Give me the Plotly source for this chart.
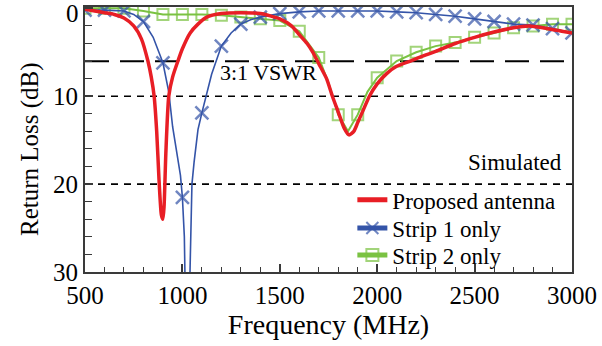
import plotly.graph_objects as go

# ---------------- data ----------------
# Proposed antenna (dense curve, MHz / dB)
prop_f = [500, 550, 600, 650, 700, 750, 790, 823, 840, 855, 868, 880, 892, 900, 906, 915,
          930, 950, 977, 1000, 1040, 1080, 1125, 1200, 1300, 1400, 1500, 1560, 1600, 1640,
          1670, 1700, 1740, 1770, 1800, 1830, 1855, 1880, 1900, 1930, 1960, 2000, 2050,
          2100, 2170, 2250, 2300, 2400, 2500, 2600, 2700, 2780, 2850, 2920, 3000]
prop_rl = [0.1, 0.3, 0.5, 0.7, 1.1, 2.0, 3.5, 6.0, 7.8, 10.0, 14.0, 19.5, 23.5, 24.0, 22.5, 16.5,
           10.0, 7.8, 6.0, 4.6, 2.8, 1.8, 1.0, 0.6, 0.5, 0.6, 1.2, 2.0, 3.0, 4.0,
           5.0, 6.3, 8.0, 10.0, 11.8, 13.6, 14.4, 14.0, 13.0, 11.5, 10.0, 8.6, 7.4,
           6.6, 6.0, 5.3, 4.9, 4.0, 3.3, 2.7, 2.2, 2.0, 2.2, 2.5, 2.8]

# Strip 1 only
s1_f = [500, 600, 700, 750, 800, 850, 900, 930, 950, 970, 990, 1000, 1010, 1020, 1030,
        1040, 1049, 1060, 1080, 1100, 1150, 1200, 1250, 1300, 1350, 1400, 1500, 1600,
        1700, 1800, 1900, 2000, 2100, 2200, 2300, 2400, 2500, 2600, 2700, 2800, 2900, 3000]
s1_rl = [0.2, 0.2, 0.3, 0.7, 1.5, 3.3, 6.2, 9.5, 13.5, 16.5, 19.0, 21.5, 26.0, 40.0, 40.0,
         29.0, 20.0, 17.5, 13.8, 11.9, 7.5, 4.3, 2.8, 1.8, 1.3, 1.0, 0.6, 0.4,
         0.3, 0.3, 0.3, 0.3, 0.4, 0.5, 0.7, 0.9, 1.2, 1.5, 1.8, 1.9, 2.3, 2.8]

# Strip 2 only
s2_f = [500, 600, 700, 800, 900, 1000, 1100, 1200, 1300, 1400, 1500, 1600, 1700, 1750,
        1800, 1850, 1900, 1950, 2000, 2100, 2200, 2300, 2400, 2500, 2600, 2700, 2800,
        2900, 3000]
s2_rl = [0.0, 0.0, 0.0, 0.3, 0.7, 0.7, 0.7, 0.8, 1.0, 1.2, 1.4, 2.6, 5.6, 8.5,
         12.1, 14.0, 12.1, 9.5, 7.9, 6.0, 5.0, 4.3, 3.9, 3.3, 2.8, 2.2, 2.0,
         1.8, 1.8]

GUIDE_LEVELS = [10, 20]      # short-dash guide lines (dB)
VSWR_LEVEL = 6.02            # 3:1 VSWR (dB)
MARKER_STEP = 100            # markers every 100 MHz

x_ticks = [500, 1000, 1500, 2000, 2500, 3000]
y_ticks = [0, 10, 20, 30]

FONT = "Liberation Serif"
RED = "rgb(232,30,37)"
BLUE = "rgb(52,84,168)"
GREEN = "rgb(122,194,66)"
AX = "#3a3a3a"


def mk_sizes(freqs, on):
    return [on if f % MARKER_STEP == 0 else 0 for f in freqs]


fig = go.Figure()

fig.add_trace(go.Scatter(
    x=s2_f, y=s2_rl, mode="lines+markers", name="Strip 2 only",
    line=dict(color=GREEN, width=2),
    marker=dict(symbol="square-open", size=mk_sizes(s2_f, 11), color=GREEN,
                line=dict(color=GREEN, width=mk_sizes(s2_f, 2))),
    legend="legend3",
))
fig.add_trace(go.Scatter(
    x=s1_f, y=s1_rl, mode="lines+markers", name="Strip 1 only",
    line=dict(color=BLUE, width=1.6),
    marker=dict(symbol="x-thin", size=mk_sizes(s1_f, 13), color=BLUE,
                line=dict(color=BLUE, width=mk_sizes(s1_f, 2.5))),
    legend="legend2",
))
fig.add_trace(go.Scatter(
    x=prop_f, y=prop_rl, mode="lines", name="Proposed antenna",
    line=dict(color=RED, width=3.5, shape="spline", smoothing=0.6),
    legend="legend",
))

shapes = []
for lv in GUIDE_LEVELS:
    shapes.append(dict(type="line", xref="paper", x0=0, x1=1, yref="y", y0=lv, y1=lv,
                       line=dict(color="black", width=1.6, dash="7px,6px"), layer="below"))
shapes.append(dict(type="line", xref="paper", x0=0, x1=1, yref="y", y0=VSWR_LEVEL, y1=VSWR_LEVEL,
                   line=dict(color="black", width=2.2, dash="24px,11px"), layer="below"))

TICK_FONT = dict(family=FONT, size=25, color="black")
axis_common = dict(
    showline=True, linecolor=AX, linewidth=2, mirror=True,
    ticks="inside", tickcolor=AX, tickwidth=1.5, ticklen=8,
    showgrid=False, zeroline=False, automargin=False,
    tickfont=TICK_FONT,
)

LEG_X = 0.549
leg_common = dict(x=LEG_X, xanchor="left", yanchor="middle",
                  bgcolor="rgba(0,0,0,0)", borderwidth=0,
                  font=dict(family=FONT, size=23, color="black"),
                  itemsizing="constant")

fig.update_layout(
    width=602, height=346,
    margin=dict(l=85, r=30, t=7, b=74, autoexpand=False),
    paper_bgcolor="white", plot_bgcolor="white",
    font=dict(family=FONT, color="black"),
    showlegend=True,
    legend=dict(y=0.272, **leg_common),
    legend2=dict(y=0.166, **leg_common),
    legend3=dict(y=0.064, **leg_common),
    shapes=shapes,
    annotations=[
        # top tick label, nudged down so it stays inside the picture (as in the reference)
        dict(text=str(y_ticks[0]), x=0, y=y_ticks[0], xref="paper", yref="y",
             xanchor="right", yanchor="middle", xshift=-4, yshift=-5, showarrow=False,
             font=TICK_FONT),
        dict(text="3:1 VSWR", x=1440, y=VSWR_LEVEL, xref="x", yref="y",
             yanchor="top", yshift=3, showarrow=False,
             font=dict(family=FONT, size=22, color="black")),
        dict(text="Simulated", x=0.984, y=0.413, xref="paper", yref="paper",
             xanchor="right", yanchor="middle", showarrow=False,
             font=dict(family=FONT, size=23, color="black")),
        dict(text="Return Loss (dB)", x=-0.113, y=0.464, xref="paper", yref="paper",
             xanchor="center", yanchor="middle", textangle=-90, showarrow=False,
             font=dict(family=FONT, size=25, color="black")),
    ],
)

fig.update_xaxes(
    range=[500, 3000], tickvals=x_ticks,
    minor=dict(dtick=MARKER_STEP, ticks="inside", ticklen=5, tickcolor=AX, tickwidth=1.2),
    title=dict(text="Frequency (MHz)", font=dict(family=FONT, size=28, color="black"), standoff=4),
    **axis_common,
)
fig.update_yaxes(
    range=[30, -0.15], tickvals=y_ticks, ticktext=[""] + [str(v) for v in y_ticks[1:]],
    minor=dict(dtick=2, ticks="inside", ticklen=7, tickcolor=AX, tickwidth=1.2),
    **axis_common,
)

fig.write_html("out.html")
